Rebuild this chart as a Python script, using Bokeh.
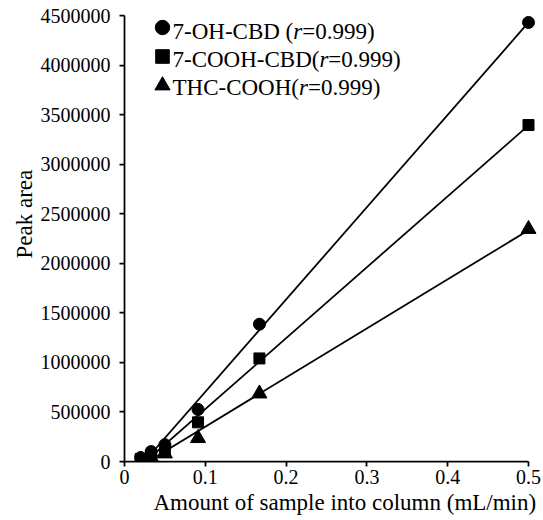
import numpy as np
from bokeh.plotting import figure
from bokeh.models import Range1d, FixedTicker, Label, Legend, LegendItem, BasicTickFormatter, Title
from bokeh.embed import file_html
from bokeh.resources import INLINE

# ---------------- data ----------------
flow = [0.02, 0.033, 0.05, 0.091, 0.167, 0.5]
oh_cbd = [40000, 100000, 170000, 525000, 1385000, 4430000]
cooh_cbd = [25000, 65000, 120000, 395000, 1040000, 3395000]
thc_cooh = [15000, 40000, 80000, 235000, 685000, 2345000]
series_names = ["7-OH-CBD ", "7-COOH-CBD", "THC-COOH"]
r_values = ["0.999", "0.999", "0.999"]
x_ticks = [0, 0.1, 0.2, 0.3, 0.4, 0.5]
y_ticks = [0, 500000, 1000000, 1500000, 2000000, 2500000, 3000000, 3500000, 4000000, 4500000]
x_title = "Amount of sample into column (mL/min)"
y_title = "Peak area"

FONT = "Liberation Serif"
W, H = 543, 520
LEFT, TOP = 124, 15
PLOT_W, PLOT_H = 404, 446      # pixels between axis ends
PAD = 12                       # extra frame on the right so edge markers are not clipped
x_max, y_max = x_ticks[-1], y_ticks[-1]
frame_bottom = TOP + PLOT_H

p = figure(width=W, height=H, output_backend="svg", toolbar_location=None,
           x_range=Range1d(0, x_max * (PLOT_W + PAD) / PLOT_W),
           y_range=Range1d(0, y_max),
           min_border_left=LEFT, min_border_top=TOP,
           min_border_right=W - LEFT - PLOT_W - PAD,
           min_border_bottom=H - frame_bottom)
p.outline_line_color = None
p.grid.visible = False
p.background_fill_color = "white"
p.border_fill_color = "white"

# axes
for ax in (p.xaxis[0], p.yaxis[0]):
    ax.axis_line_width = 1.75
    ax.axis_line_color = "black"
    ax.major_tick_line_width = 1.75
    ax.major_tick_line_color = "black"
    ax.major_tick_in = 0
    ax.major_tick_out = 5
    ax.minor_tick_line_color = None
    ax.major_label_text_font = FONT
    ax.major_label_text_font_size = "20px"
    ax.major_label_text_color = "black"

p.xaxis[0].ticker = FixedTicker(ticks=x_ticks)
p.xaxis[0].bounds = (0, x_max)
p.xaxis[0].major_label_standoff = 3
p.xaxis[0].major_label_overrides = {t: f"{t:g}" for t in x_ticks}

p.yaxis[0].ticker = FixedTicker(ticks=y_ticks)
p.yaxis[0].bounds = (0, y_max)
p.yaxis[0].formatter = BasicTickFormatter(use_scientific=False)
p.yaxis[0].major_label_standoff = 9
p.yaxis[0].major_label_overrides = {t: str(int(t)) for t in y_ticks}

# axis titles as side-panel titles
p.add_layout(Title(text=x_title, align="left", offset=29, standoff=2,
                   text_font=FONT, text_font_size="23px", text_font_style="normal",
                   text_color="black"), "below")
p.add_layout(Title(text=y_title, align="left", offset=203, standoff=2,
                   text_font=FONT, text_font_size="23px", text_font_style="normal",
                   text_color="black"), "left")

# data: trend lines + markers
markers = ["circle", "square", "triangle"]
sizes = [12, 11, 15]
renderers = []
for ys in [oh_cbd, cooh_cbd, thc_cooh]:
    m, b = np.polyfit(flow, ys, 1)
    x0 = max(min(flow), -b / m) if b < 0 else min(flow)
    x1 = max(flow)
    p.line([x0, x1], [m * x0 + b, m * x1 + b], line_color="black", line_width=1.75)
for ys, mk, sz in zip([oh_cbd, cooh_cbd, thc_cooh], markers, sizes):
    r = p.scatter(flow, ys, marker=mk, size=sz, fill_color="black", line_color="black")
    renderers.append(r)

# legend keys: one small legend per row (marker size = 0.4 * glyph box)
key_cx = 162
key_cy = [27, 56, 85]
key_box = [36, 34, 38]
for r, cy, box in zip(renderers, key_cy, key_box):
    lg = Legend(items=[LegendItem(label="", renderers=[r])],
                location=(int(key_cx - box // 2 - LEFT), int(frame_bottom - (cy + box // 2))),
                glyph_width=box, glyph_height=box, label_height=box, label_width=0,
                label_standoff=0, padding=0, margin=0, spacing=0,
                border_line_color=None, background_fill_alpha=0,
                label_text_font_size="1px")
    p.add_layout(lg)

# legend texts: name, italic r, value
WID = {'7': .5, '-': .333, 'O': .722, 'H': .722, 'C': .667, 'B': .667, 'D': .722,
       ' ': .25, '(': .333, 'T': .611}
FS = 23
text_x0 = 172
text_y = [31, 59, 87]
for n, rv, yy in zip(series_names, r_values, text_y):
    pre = n + "("
    w = sum(WID.get(c, .5) for c in pre) * FS
    common = dict(y=frame_bottom - yy, x_units="screen", y_units="screen", text_font=FONT,
                  text_font_size=f"{FS}px", text_baseline="middle", text_align="left",
                  text_color="black")
    p.add_layout(Label(x=text_x0 - LEFT, text=pre, **common))
    p.add_layout(Label(x=text_x0 + w - LEFT, text="r", text_font_style="italic", **common))
    p.add_layout(Label(x=text_x0 + w + 0.389 * FS - LEFT, text="=" + rv + ")", **common))

open("out.html", "w").write(file_html(p, INLINE))
